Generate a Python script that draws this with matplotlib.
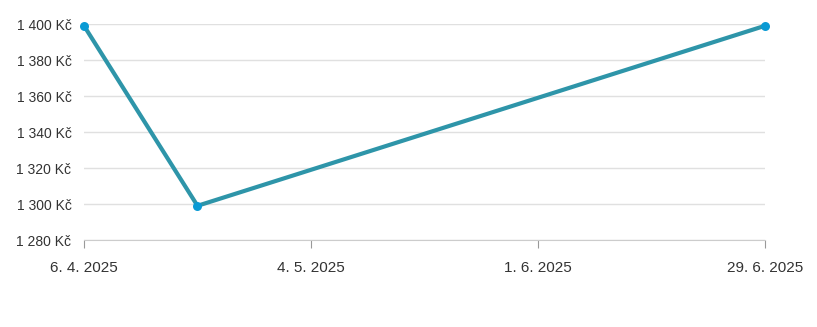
import matplotlib
matplotlib.use("Agg")
import matplotlib.pyplot as plt
import matplotlib.dates as mdates
from matplotlib.ticker import FuncFormatter
import numpy as np

# price history
dates = np.array(["2025-04-06", "2025-04-20", "2025-06-29"], dtype="datetime64[D]")
prices = [1399, 1299, 1399]
tick_dates = np.array(["2025-04-06", "2025-05-04", "2025-06-01", "2025-06-29"], dtype="datetime64[D]")
y_ticks = [1280, 1300, 1320, 1340, 1360, 1380, 1400]

plt.rcParams["font.family"] = ["Liberation Sans", "DejaVu Sans"]

fig = plt.figure(figsize=(8.17, 3.27), dpi=100)
ax = fig.add_axes([84 / 817, 1 - 240 / 327, (765 - 84) / 817, (240 - 24) / 327])

ax.plot(dates.astype("datetime64[ns]"), prices, color="#2e95a9", lw=3, zorder=3,
        solid_capstyle="round", solid_joinstyle="round")
ax.scatter(dates.astype("datetime64[ns]"), prices, s=42, color="#0a9ad4", zorder=4,
           clip_on=False, linewidths=0)

ax.set_xlim(tick_dates[0].astype("datetime64[ns]"), tick_dates[-1].astype("datetime64[ns]"))
ax.set_ylim(1280, 1400)
ax.set_xticks(tick_dates.astype("datetime64[ns]"))
ax.xaxis.set_major_formatter(FuncFormatter(
    lambda v, p: "{d}. {m}. {y}".format(d=mdates.num2date(v).day,
                                        m=mdates.num2date(v).month,
                                        y=mdates.num2date(v).year)))
ax.set_yticks(y_ticks)
ax.yaxis.set_major_formatter(FuncFormatter(
    lambda v, p: "{:,.0f} Kč".format(v).replace(",", " ")))

ax.grid(axis="y", color="#e0e0e0", lw=1)
ax.set_axisbelow(True)
for s in ["top", "right", "left"]:
    ax.spines[s].set_visible(False)
ax.spines["bottom"].set_color("#cccccc")
ax.tick_params(axis="y", length=0, pad=9, labelsize=10, labelcolor="#333333")
ax.tick_params(axis="x", length=6, color="#999999", pad=9, labelsize=11,
               labelcolor="#333333")

fig.savefig("out.png", dpi=100)
